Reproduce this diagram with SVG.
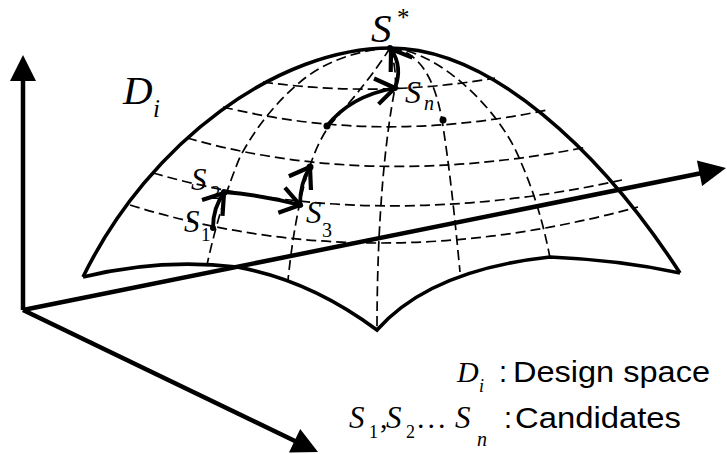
<svg xmlns="http://www.w3.org/2000/svg" width="727" height="454" viewBox="0 0 727 454">
<style>
.ax{stroke:#000;stroke-width:4.5;fill:none}
.ah{fill:#000;stroke:none}
.ol{stroke:#000;stroke-width:3.6;fill:none;stroke-linejoin:miter}
.gd{stroke:#000;stroke-width:1.7;fill:none;stroke-dasharray:10 5}
.cn{stroke:#000;stroke-width:3.8;fill:none}
.dot{fill:#000}
.mi{font-family:"Liberation Serif","Times New Roman",serif;font-style:italic;fill:#000}
.mr{font-family:"Liberation Serif","Times New Roman",serif;fill:#000}
.sa{font-family:"Liberation Sans",Arial,sans-serif;fill:#000}
</style>
<defs>
<marker id="chev" markerUnits="userSpaceOnUse" orient="auto" viewBox="-24 -16 28 32" refX="0" refY="0" markerWidth="28" markerHeight="32" overflow="visible">
<path d="M-19,-13 L0,0 L-19,13" fill="none" stroke="#000" stroke-width="4.2"/>
</marker>
</defs>
<rect width="727" height="454" fill="#fff"/>
<g id="axes">
<line class="ax" x1="23" y1="310" x2="23" y2="78"/>
<polygon class="ah" points="23,55 10,81 36,81"/>
<line class="ax" x1="23" y1="310" x2="297" y2="442"/>
<polygon class="ah" points="318,452 289,452.4 300.2,429"/>
</g>
<g id="surface">
<path class="gd" d="M263,82 Q380,98 495,78"/>
<path class="gd" d="M223,107 Q380,145 547,110"/>
<path class="gd" d="M187,138 Q370,190 587,147"/>
<path class="gd" d="M153,173 Q370,235 622,180"/>
<path class="gd" d="M130,205 Q370,280 638,207"/>
<path class="gd" d="M390,48 Q340,52 305,78 Q265,110 240,157 Q220,205 207,265"/>
<path class="gd" d="M390,48 Q370,80 330,125 Q300,165 288,280"/>
<path class="gd" d="M390,48 Q397,70 395,88 C385,140 377,220 377,330"/>
<path class="gd" d="M392,48 C420,52 435,80 442,120 C450,170 455,220 460,272"/>
<path class="gd" d="M392,48 C440,52 500,110 520,160 Q540,205 550,258"/>
<path class="ol" d="M83,277 C150,140 280,48 390,48 C490,48 600,150 680,273"/>
<path class="ol" d="M83,277 Q160,258 237,267 Q310,280 377,330 Q430,270 550,257 Q620,260 680,273"/>
</g>
<g id="axis-x">
<line class="ax" x1="23" y1="310" x2="702" y2="173"/>
<polygon class="ah" points="726,168 702.1,186 696.9,160.6"/>
</g>
<g id="connectors">
<path class="cn" d="M213,228 Q213,207 224,193" marker-end="url(#chev)"/>
<path class="cn" d="M224,192 Q262,195 300,205" marker-end="url(#chev)"/>
<path class="cn" d="M300,205 Q300,183 310,167" marker-end="url(#chev)"/>
<path class="cn" d="M327,126 Q350,96 395,88" marker-end="url(#chev)"/>
<path class="cn" d="M395,88 Q403,67 391,49" marker-end="url(#chev)"/>
</g>
<g id="node-di">
<text class="mi" x="123" y="104" font-size="41">D</text>
<text class="mi" x="153" y="117" font-size="25">i</text>
</g>
<g id="node-s1">
<circle class="dot" cx="213" cy="228" r="3"/>
<text class="mi" x="184" y="232" font-size="31">S</text>
<text class="mr" x="201" y="241" font-size="19">1</text>
</g>
<g id="node-s2">
<circle class="dot" cx="224" cy="192" r="3"/>
<text class="mi" x="191" y="190" font-size="31">S</text>
<text class="mr" x="211" y="199" font-size="19">2</text>
</g>
<g id="node-s3">
<circle class="dot" cx="300" cy="205" r="3"/>
<text class="mi" x="306" y="223" font-size="31">S</text>
<text class="mr" x="322" y="237" font-size="20">3</text>
</g>
<g id="node-p4">
<circle class="dot" cx="310" cy="167" r="3.5"/>
</g>
<g id="node-p5">
<circle class="dot" cx="327" cy="126" r="3.5"/>
</g>
<g id="node-p6">
<circle class="dot" cx="443" cy="120" r="3.5"/>
</g>
<g id="node-sn">
<circle class="dot" cx="395" cy="88" r="3"/>
<text class="mi" x="405" y="103" font-size="32">S</text>
<text class="mi" x="424" y="110" font-size="20">n</text>
</g>
<g id="node-sstar">
<circle class="dot" cx="390" cy="48" r="3"/>
<text class="mi" x="371" y="42" font-size="41">S</text>
<text class="mr" x="397" y="26" font-size="25">*</text>
</g>
<g id="legend">
<text class="mi" x="457" y="382" font-size="30">D</text>
<text class="mi" x="479" y="392" font-size="18">i</text>
<text class="sa" x="499" y="382" font-size="29">:</text>
<text class="sa" x="513" y="382" font-size="29" textLength="197" lengthAdjust="spacingAndGlyphs">Design space</text>
<text class="mi" x="349" y="428" font-size="31">S</text>
<text class="mr" x="369" y="438" font-size="18">1</text>
<text class="mr" x="380" y="428" font-size="30">,</text>
<text class="mi" x="386" y="428" font-size="31">S</text>
<text class="mr" x="406" y="438" font-size="18">2</text>
<text class="mr" x="417" y="428" font-size="30" letter-spacing="3">...</text>
<text class="mi" x="455" y="428" font-size="31">S</text>
<text class="mi" x="477" y="446" font-size="20">n</text>
<text class="sa" x="504" y="428" font-size="29">:</text>
<text class="sa" x="515" y="428" font-size="29" textLength="166" lengthAdjust="spacingAndGlyphs">Candidates</text>
</g>
</svg>
